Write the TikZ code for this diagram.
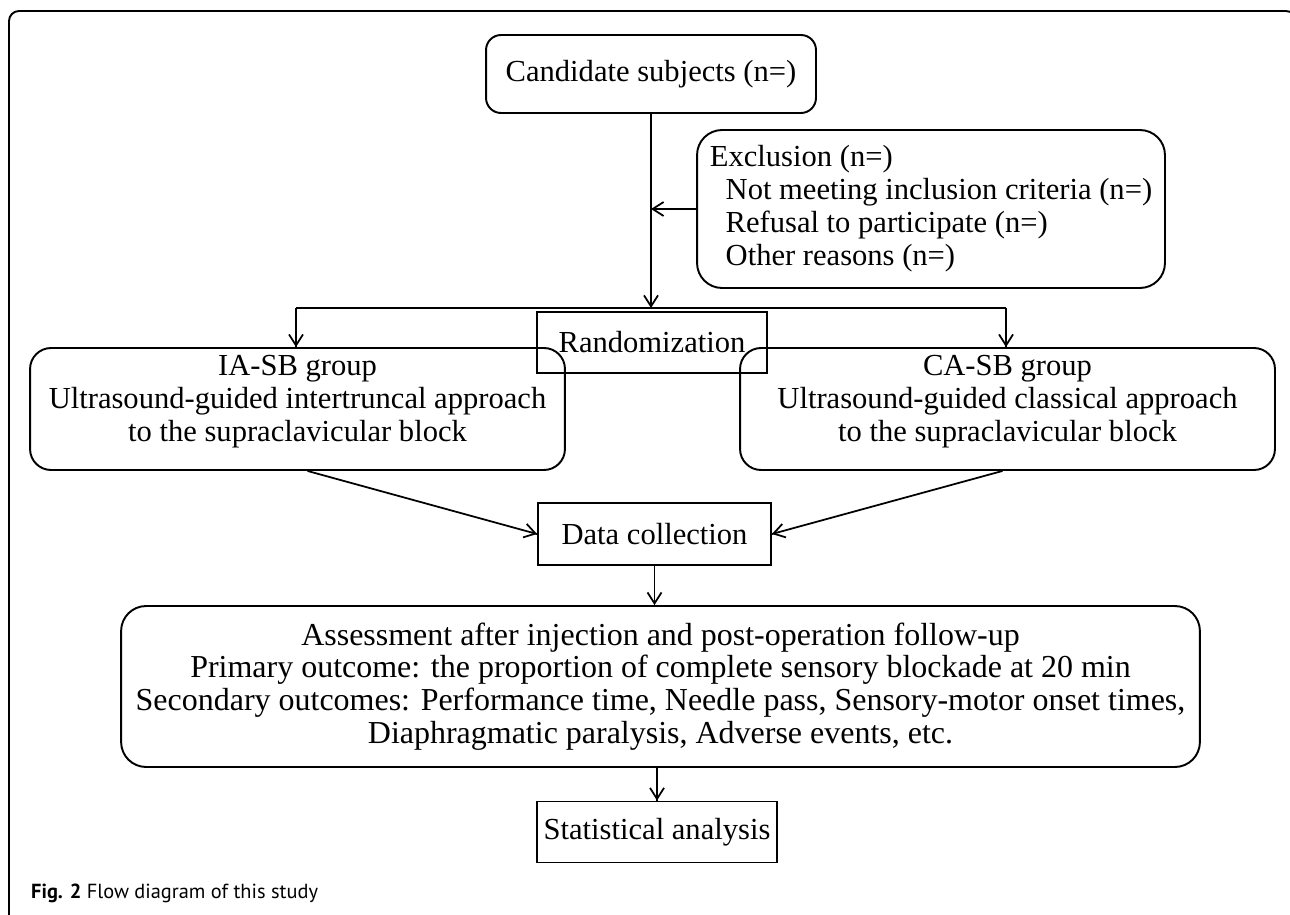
\documentclass[tikz,border=0pt]{standalone}
\usepackage{fontspec}
\setmainfont{Liberation Serif}
\newfontfamily\capfont{PT Sans}
\usetikzlibrary{positioning, arrows.meta, decorations.markings, calc}

\begin{document}
\begin{tikzpicture}[%
		x=0.02cm,
		y=-0.02cm,
		font=\fontsize{17.4}{18.8}\selectfont,
		rbox/.style={
			rectangle,
			rounded corners=#1,
			line width=1.1pt,
			inner sep=0pt,
			black,
			align=center,
			draw
		},
		sbox/.style={
			rectangle,
			line width=1.1pt,
			inner sep=0pt,
			black,
			align=center,
			draw
		},
		trialarrow/.style={
			line width=1pt,
			decoration={markings,mark=at position 1 with {\arrow{Straight Barb[length=2.2mm,width=2.8mm]}}},
			postaction={decorate}
		},
		caplabel/.style={
			anchor=west,
			font=\capfont\fontsize{11.6}{14}\selectfont
		}]

		\useasboundingbox (0,0) rectangle (1290,915);

		% FRAME

		\draw[line width=1.1pt, rounded corners=0.2cm] (9,11) rectangle (1296,925);

		% BOXES

		\node (cand) [rbox=0.3cm, minimum width=6.6cm, minimum height=1.56cm] at (651,74) {Candidate subjects (n=)};
		\node (excl) [rbox=0.5cm, minimum width=9.36cm, minimum height=3.16cm, align=left] at (931,209) {Exclusion (n=)\\
			\hspace*{9pt}Not meeting inclusion criteria (n=)\\
			\hspace*{9pt}Refusal to participate (n=)\\
			\hspace*{9pt}Other reasons (n=)};
		\node (rand) [sbox, minimum width=4.6cm, minimum height=1.22cm] at (652,342.5) {Randomization};
		\node (IA-SB) [rbox=0.42cm, minimum width=10.7cm, minimum height=2.44cm] at (297.5,409) {IA-SB group\\
			Ultrasound-guided intertruncal approach\\
			to the supraclavicular block\\[-6.8pt]\mbox{}};
		\node (CA-SB) [rbox=0.42cm, minimum width=10.7cm, minimum height=2.44cm] at (1007.5,409) {CA-SB group\\
			Ultrasound-guided classical approach\\
			to the supraclavicular block\\[-6.8pt]\mbox{}};
		\node (data) [sbox, minimum width=4.66cm, minimum height=1.24cm] at (654.5,534) {Data collection};
		\node (assess) [rbox=0.5cm, minimum width=21.58cm, minimum height=3.22cm, font=\fontsize{18.2}{18.6}\selectfont] at (660.5,686.5) {Assessment after injection and post-operation follow-up\\
			Primary outcome: the proportion of complete sensory blockade at 20 min\\
			Secondary outcomes: Performance time, Needle pass, Sensory-motor onset times,\\
			Diaphragmatic paralysis, Adverse events, etc.};
		\node (stat) [sbox, minimum width=4.8cm, minimum height=1.22cm] at (657,832) {Statistical analysis};

		\node (caption) [caplabel] at (25,893) {\textbf{Fig. 2} Flow diagram of this study};

		% SPLIT POINTS

		\coordinate (b1) at (296,308);
		\coordinate (b2) at (1006,308);

		% LINES

		\draw[trialarrow] (cand.south) -- (cand.south |- b1);
		\draw[trialarrow] (excl.west) -- (excl.west -| cand.south);
		\draw[line width=1pt] (b1) -- (b2);
		\draw[trialarrow] (b1) -- (b1 |- IA-SB.north);
		\draw[trialarrow] (b2) -- (b2 |- CA-SB.north);
		\draw[trialarrow] ([xshift=0.2cm]IA-SB.south) -- (data.west);
		\draw[trialarrow] ([xshift=-0.1cm]CA-SB.south) -- (data.east);
		\draw[trialarrow] (data.south) -- (assess.north -| data.south);
		\draw[trialarrow] (assess.south -| stat.north) -- (stat.north);
\end{tikzpicture}
\end{document}
